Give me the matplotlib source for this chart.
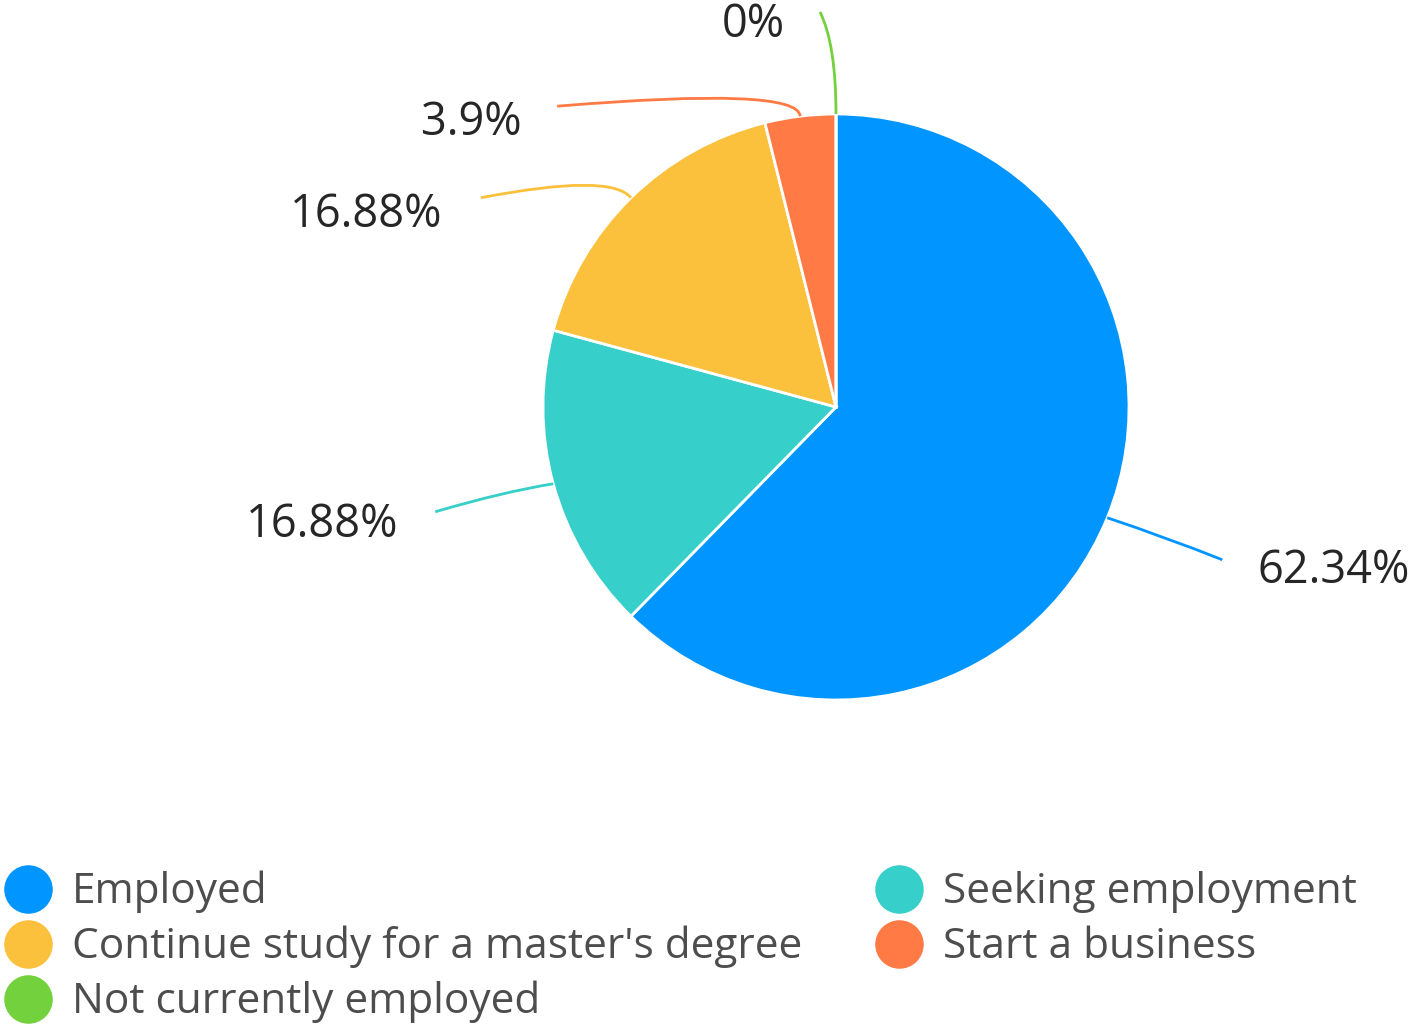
import numpy as np
import matplotlib
matplotlib.use("Agg")
import matplotlib.pyplot as plt
from matplotlib.path import Path
from matplotlib.patches import PathPatch

plt.rcParams['font.family'] = ['Open Sans', 'DejaVu Sans']

# data
categories = ["Employed", "Seeking employment", "Continue study for a master's degree",
              "Start a business", "Not currently employed"]
values = [62.34, 16.88, 16.88, 3.9, 0]
labels = ["62.34%", "16.88%", "16.88%", "3.9%", "0%"]
colors = ["#0095FF", "#36CFC9", "#FBC13C", "#FF7A45", "#73D13D"]

W, H = 1418, 1032
fig = plt.figure(figsize=(W / 100, H / 100), dpi=100)
ax = fig.add_axes([0, 0, 1, 1])

cx, cy, r = 836, H - 407, 293
wedges, _ = ax.pie(values, colors=colors, startangle=90, counterclock=False,
                   center=(cx, cy), radius=r, frame=True,
                   wedgeprops=dict(edgecolor='white', linewidth=2))
ax.set_xlim(0, W)
ax.set_ylim(0, H)
ax.set_aspect('equal')
ax.axis('off')

# leader lines: control offset, end offset (px from wedge edge), label xy, alignment
leader = [
    ((60, -20), (115, -42), (1257, H - 571), 'left'),
    ((-50, -8), (-118, -28), (398, H - 525), 'right'),
    ((-20, 25), (-150, 0), (442, H - 215), 'right'),
    ((-2, 30), (-243, 10), (522, H - 123), 'right'),
    ((0, 70), (-16, 102), (785, H - 25), 'right'),
]

for w, lab, col, (c, e, txy, ha) in zip(wedges, labels, colors, leader):
    mid = np.deg2rad((w.theta1 + w.theta2) / 2)
    sx, sy = cx + r * np.cos(mid), cy + r * np.sin(mid)
    p = Path([(sx, sy), (sx + c[0], sy + c[1]), (sx + e[0], sy + e[1])],
             [Path.MOVETO, Path.CURVE3, Path.CURVE3])
    ax.add_patch(PathPatch(p, facecolor='none', edgecolor=col, lw=2))
    ax.text(txy[0], txy[1], lab, fontsize=32.5, color='#262626', ha=ha, va='center')

# legend, two columns
leg_pos = [(28, 889), (899, 889), (28, 944), (899, 944), (28, 999)]
for i, (lx, ly) in enumerate(leg_pos):
    ax.scatter([lx], [H - ly], s=1150, color=colors[i], zorder=3)
    ax.text(lx + 44, H - ly - 3, categories[i], fontsize=30.5, color='#4d4d4d',
            ha='left', va='center')

fig.savefig("out.png", dpi=100)
